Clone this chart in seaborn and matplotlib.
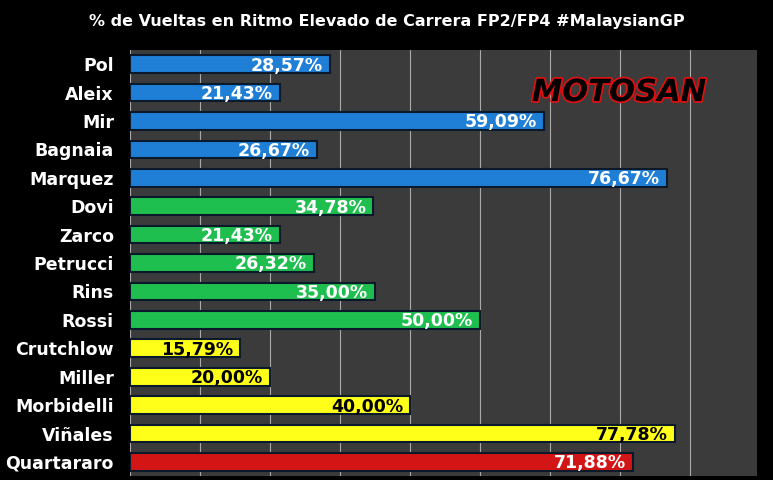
import matplotlib
matplotlib.use("Agg")
import matplotlib.pyplot as plt
import seaborn as sns
import pandas as pd

riders = ["Pol","Aleix","Mir","Bagnaia","Marquez","Dovi","Zarco","Petrucci","Rins","Rossi",
          "Crutchlow","Miller","Morbidelli","Viñales","Quartararo"]
values = [28.57,21.43,59.09,26.67,76.67,34.78,21.43,26.32,35.00,50.00,15.79,20.00,40.00,77.78,71.88]
groups = ["a"]*5 + ["b"]*5 + ["c"]*4 + ["d"]
palette = {"a":"#1f7fd6","b":"#1fbf4f","c":"#ffff1a","d":"#d41515"}

df = pd.DataFrame({"rider":riders,"value":values,"group":groups})

sns.set_style("dark")
fig = plt.figure(figsize=(7.73,4.8), dpi=100, facecolor="black")
ax = fig.add_axes([0.168,0.008,0.811,0.888])
ax.set_facecolor("#3b3b3b")
sns.barplot(data=df, y="rider", x="value", hue="group", palette=palette, dodge=False,
            legend=False, ax=ax, width=0.62, edgecolor="#0a1a2a", linewidth=1.5, saturation=1)
ax.set_xlim(0,89.5)
ax.set_xticks(range(0,90,10))
ax.xaxis.grid(True, color="#aaaaaa", linewidth=0.8)
ax.yaxis.grid(False)
ax.set_axisbelow(True)
ax.tick_params(axis="x", bottom=False, labelbottom=False)
ax.tick_params(axis="y", left=False, colors="white", labelsize=12.5, pad=8)
for t in ax.get_yticklabels():
    t.set_fontweight("bold")
ax.set_xlabel(""); ax.set_ylabel("")
for s in ax.spines.values():
    s.set_visible(False)
for i,(v,g) in enumerate(zip(values,groups)):
    ax.text(v-1, i+0.05, f"{v:.2f}%".replace(".",","), ha="right", va="center",
            color="black" if g=="c" else "white", fontsize=12.5, fontweight="bold")
fig.text(0.5, 0.955, "% de Vueltas en Ritmo Elevado de Carrera FP2/FP4 #MalaysianGP",
         ha="center", va="center", color="white", fontsize=11.5, fontweight="bold")
ax.text(0.78, 0.9, "MOTOSAN", transform=ax.transAxes, ha="center", va="center",
        color="black", fontsize=22, fontweight="bold", style="italic",
        bbox=None, path_effects=[__import__("matplotlib.patheffects",fromlist=["x"]).withStroke(linewidth=2.5, foreground="#e01010")])
fig.savefig("out.png", dpi=100, facecolor="black")
